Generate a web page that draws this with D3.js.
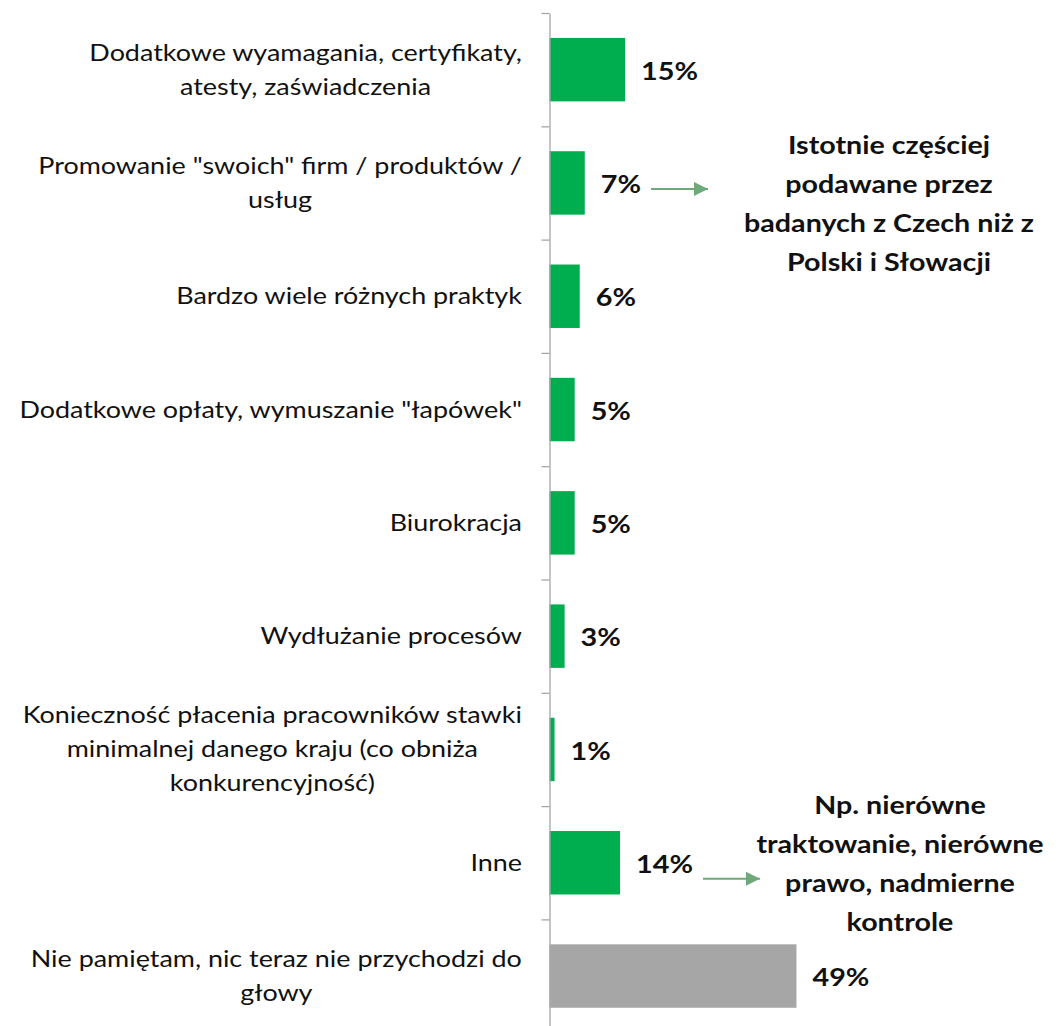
<!DOCTYPE html>
<html>
<head>
<meta charset="utf-8">
<script src="https://cdn.jsdelivr.net/npm/d3@7"></script>
<style>
  html, body { margin: 0; padding: 0; background: #fff; }
  svg { display: block; }
</style>
</head>
<body>
<svg id="chart" width="1059" height="1026"></svg>
<script>
// Category labels (each entry holds the wrapped lines of one label)
const categories = [
  ["Dodatkowe wyamagania, certyfikaty,", "atesty, zaświadczenia"],
  ["Promowanie \"swoich\" firm / produktów /", "usług"],
  ["Bardzo wiele różnych praktyk"],
  ["Dodatkowe opłaty, wymuszanie \"łapówek\""],
  ["Biurokracja"],
  ["Wydłużanie procesów"],
  ["Konieczność płacenia pracowników stawki", "minimalnej danego kraju (co obniża", "konkurencyjność)"],
  ["Inne"],
  ["Nie pamiętam, nic teraz nie przychodzi do", "głowy"]
];
// Share of answers
const values = [0.15, 0.07, 0.06, 0.05, 0.05, 0.03, 0.01, 0.14, 0.49];
// Which bars are the "no answer" group (drawn grey)
const neutral = [false, false, false, false, false, false, false, false, true];
// Callout notes attached to bars
const noteIndex = [1, 7];
const noteLines = [
  ["Istotnie częściej", "podawane przez", "badanych z Czech niż z", "Polski i Słowacji"],
  ["Np. nierówne", "traktowanie, nierówne", "prawo, nadmierne", "kontrole"]
];

const svg = d3.select("#chart");
const FONT = "Lato, 'Open Sans', sans-serif";
const GREEN = "#00AE4F", GREY = "#A6A6A6", ARROW = "#6FA879";
const SX = 1.17;   // horizontal widening of the text glyphs

const axisX = 549.5;
const plotTop = 13, step = 113.3;
const ids = d3.range(categories.length);

const y = d3.scaleBand()
  .domain(ids)
  .range([plotTop, plotTop + step * ids.length])
  .paddingInner(0.44)
  .paddingOuter(0.22);

const x = d3.scaleLinear().domain([0, 0.5]).range([axisX, axisX + 252]);

// bars
svg.append("g").selectAll("rect")
  .data(ids)
  .join("rect")
  .attr("x", axisX)
  .attr("y", i => y(i))
  .attr("width", i => x(values[i]) - axisX)
  .attr("height", y.bandwidth())
  .attr("fill", i => neutral[i] ? GREY : GREEN);

// category axis: vertical line with ticks between categories
const edges = d3.scaleLinear().domain([0, ids.length]).range([plotTop, plotTop + step * ids.length]);
const axisG = svg.append("g")
  .attr("transform", `translate(${axisX},0)`)
  .call(d3.axisLeft(edges).tickValues(d3.range(ids.length + 1)).tickFormat("").tickSize(8).tickSizeOuter(0));
axisG.select(".domain").attr("stroke", "#A6A6A6").attr("stroke-width", 1.3);
axisG.selectAll(".tick line").attr("stroke", "#A6A6A6").attr("stroke-width", 1.3);

// category labels: block right-aligned to the axis, lines centred within the block
const labelRight = 522, lineH = 34;
const catG = svg.append("g")
  .attr("font-family", FONT)
  .attr("font-size", 23)
  .attr("fill", "#111");
ids.forEach(i => {
  const lines = categories[i];
  const t = catG.append("text").attr("text-anchor", "middle");
  const cy = y(i) + y.bandwidth() / 2;
  const y0 = cy - (lines.length - 1) * lineH / 2;
  lines.forEach((ln, k) => {
    t.append("tspan").attr("x", 0).attr("y", y0 + k * lineH).attr("dy", "0.35em").text(ln);
  });
  const w = d3.max(t.selectAll("tspan").nodes(), n => n.getComputedTextLength()) * SX;
  t.attr("transform", `translate(${labelRight - w / 2},0) scale(${SX},1)`);
});

// value labels
const valG = svg.append("g")
  .attr("font-family", FONT)
  .attr("font-weight", 700)
  .attr("font-size", 25)
  .attr("fill", "#111");
const valTexts = valG.selectAll("text")
  .data(ids)
  .join("text")
  .attr("transform", i => `translate(${x(values[i]) + 16},0) scale(${SX - 0.02},1)`)
  .attr("x", 0)
  .attr("y", i => y(i) + y.bandwidth() / 2 + 1.5)
  .attr("dy", "0.35em")
  .text(i => Math.round(values[i] * 100) + "%");

// arrow head
svg.append("defs").append("marker")
  .attr("id", "head")
  .attr("viewBox", "0 0 10 10")
  .attr("refX", 10).attr("refY", 5)
  .attr("markerUnits", "userSpaceOnUse")
  .attr("markerWidth", 16).attr("markerHeight", 14)
  .attr("orient", "auto")
  .append("path").attr("d", "M0,0 L10,5 L0,10 Z").attr("fill", ARROW);

// callouts
const noteCenters = [[889, 145], [900, 805]];
const arrowDy = [6, 16];
noteIndex.forEach((ci, k) => {
  const node = valTexts.nodes()[ci];
  const len = node.getComputedTextLength() * (SX - 0.02);
  const ax = x(values[ci]) + 16 + len + 10;
  const ay = y(ci) + y.bandwidth() / 2 + arrowDy[k];
  svg.append("line")
    .attr("x1", ax).attr("x2", ax + 57)
    .attr("y1", ay).attr("y2", ay)
    .attr("stroke", ARROW).attr("stroke-width", 2)
    .attr("marker-end", "url(#head)");
  const t = svg.append("text")
    .attr("font-family", FONT)
    .attr("font-weight", 700)
    .attr("font-size", 24.5)
    .attr("fill", "#111")
    .attr("text-anchor", "middle")
    .attr("transform", `translate(${noteCenters[k][0]},0) scale(${SX},1)`);
  noteLines[k].forEach((ln, j) => {
    t.append("tspan")
      .attr("x", 0)
      .attr("y", noteCenters[k][1] + j * 39)
      .attr("dy", "0.35em")
      .text(ln);
  });
});
</script>
</body>
</html>
